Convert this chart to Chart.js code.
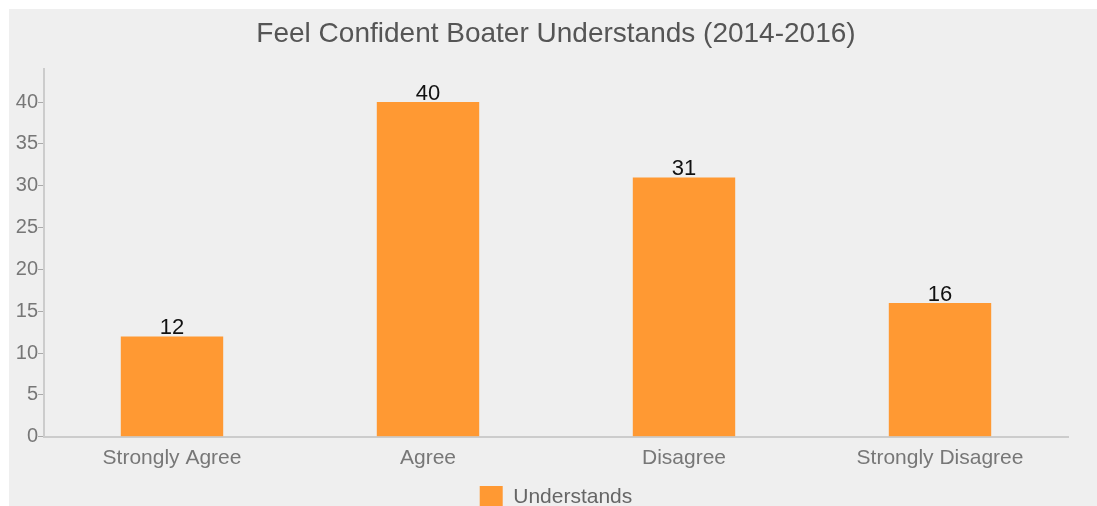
<!DOCTYPE html>
<html>
<head>
<meta charset="utf-8">
<script src="https://cdn.jsdelivr.net/npm/chart.js@4/dist/chart.umd.min.js"></script>
<style>
  html, body { margin: 0; padding: 0; background: #fff; overflow: hidden; }
  #wrap { position: absolute; left: 9px; top: 9px; width: 1088px; height: 510px; background: #efefef; }
</style>
</head>
<body>
<div id="wrap"><canvas id="chart"></canvas></div>
<script>
const categorias = ["Strongly Agree", "Agree", "Disagree", "Strongly Disagree"];
const valores = [12, 40, 31, 16];
const serie = "Understands";
const titulo = "Feel Confident Boater Understands (2014-2016)";
const ticksY = [0, 5, 10, 15, 20, 25, 30, 35, 40];

// etiquetas encima de cada barra
const etiquetas = {
  id: 'etiquetas',
  afterDatasetsDraw(chart) {
    const ctx = chart.ctx;
    ctx.save();
    ctx.font = '22px "Liberation Sans", Arial, sans-serif';
    ctx.fillStyle = '#111';
    ctx.textAlign = 'center';
    ctx.textBaseline = 'bottom';
    chart.getDatasetMeta(0).data.forEach((bar, i) => {
      ctx.fillText(valores[i], bar.x, bar.y + 3);
    });
    ctx.restore();
  }
};

Chart.defaults.font.family = '"Liberation Sans", Arial, sans-serif';

new Chart(document.getElementById('chart').getContext('2d'), {
  type: 'bar',
  data: {
    labels: categorias,
    datasets: [{
      label: serie,
      data: valores,
      backgroundColor: '#ff9933',
      borderWidth: 0,
      barPercentage: 0.4,
      categoryPercentage: 1.0
    }]
  },
  options: {
    animation: false,
    responsive: true,
    maintainAspectRatio: false,
    // título y leyenda quedan centrados sobre el área de las barras
    layout: { padding: { left: 6, right: 0, top: 0, bottom: 0 } },
    plugins: {
      title: {
        display: true,
        text: titulo,
        color: '#555',
        font: { size: 28, weight: 'normal' },
        padding: { top: 8, bottom: 18 }
      },
      legend: {
        position: 'bottom',
        labels: { color: '#666', font: { size: 21 }, boxWidth: 23, boxHeight: 23, padding: 12 }
      },
      tooltip: { enabled: false }
    },
    scales: {
      x: {
        grid: { display: false, drawOnChartArea: false, drawTicks: true, tickLength: 6, color: '#aaa' },
        border: { color: '#ccc', width: 2 },
        ticks: { color: '#777', font: { size: 21 }, padding: 3 }
      },
      y: {
        min: 0,
        max: 44,
        afterBuildTicks: s => { s.ticks = ticksY.map(v => ({ value: v })); },
        afterFit: s => { s.width = 29; },
        grid: { drawOnChartArea: false, drawTicks: true, tickLength: 6, color: '#aaa' },
        border: { color: '#ccc', width: 2 },
        ticks: { color: '#777', font: { size: 20 }, padding: 0 }
      },
      // eje vacío a la derecha solo para reservar margen
      y2: {
        position: 'right',
        min: 0,
        max: 44,
        afterFit: s => { s.width = 29; },
        grid: { display: false },
        border: { display: false },
        ticks: { display: false }
      }
    }
  },
  plugins: [etiquetas]
});
</script>
</body>
</html>
